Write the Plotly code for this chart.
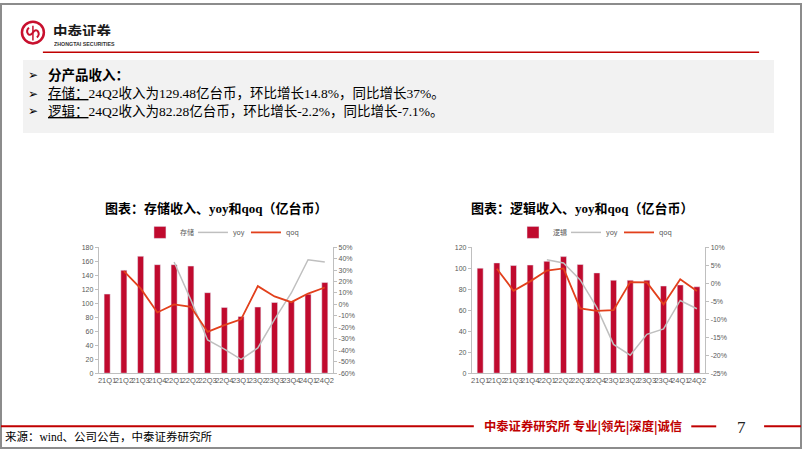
import plotly.graph_objects as go

W, H = 802, 451

quarters = ["21Q1", "21Q2", "21Q3", "21Q4", "22Q1", "22Q2", "22Q3", "22Q4",
            "23Q1", "23Q2", "23Q3", "23Q4", "24Q1", "24Q2"]

storage_rev = [113, 147, 167, 155, 155, 153, 115, 94, 81, 94.5, 101, 103, 112.8, 129.48]
storage_yoy = [None, None, None, None, 37, 4, -31, -39, -48, -38, -13, 10, 39, 37]
storage_qoq = [None, 29, 14, -7, 0, -2, -24, -18, -13, 16, 7, 2, 9.5, 14.8]

logic_rev = [100, 105, 102.5, 103, 106.5, 111, 103.5, 95.5, 88.5, 88.5, 88.6, 83, 84, 82.28]
logic_yoy = [None, None, None, None, 6.5, 5.6, 0.9, -6.8, -17, -20, -14.2, -12.7, -4.8, -7.1]
logic_qoq = [None, 4, -2.1, 0.5, 3.5, 4.1, -7, -7.7, -7.5, 0.3, 0.2, -5.9, 1.1, -2.2]

left_ticks = [-60, -50, -40, -30, -20, -10, 0, 10, 20, 30, 40, 50]
right_ticks = [-25, -20, -15, -10, -5, 0, 5, 10]

BAR = "#C00A2E"
YOY = "#BFBFBF"
QOQ = "#E2401C"
TICK = "#595959"
AX = "#BFBFBF"
SERIF = "Liberation Serif, Noto Sans CJK SC, serif"
SANS = "Liberation Sans, Arial, sans-serif"
CJK = "Noto Sans CJK SC, sans-serif"


def px(x):
    return x / W


def py(y):
    return 1 - y / H


fig = go.Figure()

# ---- left chart: storage
fig.add_trace(go.Bar(x=quarters, y=storage_rev, name="存储", marker_color=BAR,
                     xaxis="x", yaxis="y", legend="legend"))
fig.add_trace(go.Scatter(x=quarters, y=storage_yoy, name="yoy", mode="lines",
                         line=dict(color=YOY, width=1.5), xaxis="x", yaxis="y2",
                         legend="legend"))
fig.add_trace(go.Scatter(x=quarters, y=storage_qoq, name="qoq", mode="lines",
                         line=dict(color=QOQ, width=1.8), xaxis="x", yaxis="y2",
                         legend="legend"))

# ---- right chart: logic
fig.add_trace(go.Bar(x=quarters, y=logic_rev, name="逻辑", marker_color=BAR,
                     xaxis="x2", yaxis="y3", legend="legend2"))
fig.add_trace(go.Scatter(x=quarters, y=logic_yoy, name="yoy", mode="lines",
                         line=dict(color=YOY, width=1.5), xaxis="x2", yaxis="y4",
                         legend="legend2"))
fig.add_trace(go.Scatter(x=quarters, y=logic_qoq, name="qoq", mode="lines",
                         line=dict(color=QOQ, width=1.8), xaxis="x2", yaxis="y4",
                         legend="legend2"))

ydom = [py(375), py(247)]
tickfont = dict(family=SANS, size=7, color=TICK)
xtickfont = dict(family=SANS, size=7.5, color=TICK)

common_x = dict(showgrid=False, showline=True, linecolor=AX, linewidth=1,
                ticks="", tickfont=xtickfont, tickangle=0, fixedrange=True)
common_y = dict(showgrid=False, showline=True, linecolor=AX, linewidth=1,
                ticks="outside", ticklen=3, tickcolor=AX, tickfont=tickfont,
                zeroline=False, fixedrange=True)

legend_common = dict(orientation="h", yanchor="middle", xanchor="center",
                     font=dict(family=CJK, size=7, color=TICK),
                     itemwidth=30, entrywidth=8, entrywidthmode="pixels",
                     bgcolor="rgba(0,0,0,0)", tracegroupgap=0)

fig.update_layout(
    width=W, height=H,
    margin=dict(l=0, r=0, t=0, b=0),
    paper_bgcolor="white", plot_bgcolor="rgba(0,0,0,0)",
    bargap=0.64,
    xaxis=dict(domain=[px(98), px(333)], anchor="y", **common_x),
    yaxis=dict(domain=ydom, anchor="x", range=[0, 180], dtick=20, **common_y),
    yaxis2=dict(overlaying="y", side="right", anchor="x", range=[-60, 50],
                tickvals=left_ticks, ticktext=[f"{v}%" for v in left_ticks],
                **common_y),
    xaxis2=dict(domain=[px(472), px(706)], anchor="y3", **common_x),
    yaxis3=dict(domain=ydom, anchor="x2", range=[0, 120], dtick=20, **common_y),
    yaxis4=dict(overlaying="y3", side="right", anchor="x2", range=[-25, 10],
                tickvals=right_ticks, ticktext=[f"{v}%" for v in right_ticks],
                **common_y),
    legend=dict(x=px(219), y=py(232), **legend_common),
    legend2=dict(x=px(593), y=py(232), **legend_common),
    showlegend=True,
)

shapes = []
# slide border
shapes.append(dict(type="rect", xref="paper", yref="paper", x0=0, y0=0, x1=1, y1=1,
                   line=dict(color="#8C8C8C", width=2), layer="above"))
# top red rule
shapes.append(dict(type="line", xref="paper", yref="paper", x0=px(42), x1=px(760),
                   y0=py(49), y1=py(49), line=dict(color="#C00000", width=1.5)))
# text box
shapes.append(dict(type="rect", xref="paper", yref="paper", x0=px(22), x1=px(775),
                   y0=py(131), y1=py(57), fillcolor="#F2F2F2", line=dict(width=0),
                   layer="below"))
# logo circle
shapes.append(dict(type="circle", xref="paper", yref="paper", x0=px(21), x1=px(43),
                   y0=py(40), y1=py(18), line=dict(color="#C8102E", width=2.5)))
shapes.append(dict(type="path", xref="paper", yref="paper",
                   path=f"M {px(28)} {py(24)} C {px(24)} {py(28)}, {px(28)} {py(35)}, {px(32)} {py(29)} "
                        f"C {px(36)} {py(23)}, {px(40)} {py(30)}, {px(36)} {py(34)}",
                   line=dict(color="#C8102E", width=2)))
shapes.append(dict(type="line", xref="paper", yref="paper", x0=px(32), x1=px(32),
                   y0=py(22), y1=py(37), line=dict(color="#C8102E", width=1.5)))
# footer rules
shapes.append(dict(type="line", xref="paper", yref="paper", x0=0, x1=px(474),
                   y0=py(429), y1=py(429), line=dict(color="#C00000", width=2)))
shapes.append(dict(type="line", xref="paper", yref="paper", x0=px(692), x1=px(717),
                   y0=py(429), y1=py(429), line=dict(color="#C00000", width=2)))
shapes.append(dict(type="line", xref="paper", yref="paper", x0=px(765), x1=1,
                   y0=py(429), y1=py(429), line=dict(color="#C00000", width=2)))
fig.update_layout(shapes=shapes)

ann = []


def text(x, y, s, size, color="#000", family=SERIF, xanchor="left", height=None):
    a = dict(xref="paper", yref="paper", x=px(x), y=py(y), text=s,
             showarrow=False, xanchor=xanchor, yanchor="middle",
             font=dict(size=size, color=color, family=family))
    if height:
        a["height"] = height
        a["borderpad"] = 0
    ann.append(a)


# logo text
text(51, 26, "<b>中泰证券</b>", 14.5, "#1a1a1a", CJK, height=12)
text(52, 41, "<b>ZHONGTAI SECURITIES</b>", 5.3, "#333", SANS, height=4)

# bullet box
for yy in (72, 91, 109):
    text(25, yy, "➢", 12, "#000", "DejaVu Sans")
text(45, 72, "<b>分产品收入：</b>", 13.5)
text(45, 91, "<u>存储：</u>24Q2收入为129.48亿台币，环比增长14.8%，同比增长37%。", 13.5)
text(45, 109, "<u>逻辑：</u>24Q2收入为82.28亿台币，环比增长-2.2%，同比增长-7.1%。", 13.5)

# chart titles
text(102, 208, "<b>图表：存储收入、yoy和qoq（亿台币）</b>", 13)
text(469, 208, "<b>图表：逻辑收入、yoy和qoq（亿台币）</b>", 13)

# footer
text(482, 429, "<b>中泰证券研究所 专业|领先|深度|诚信</b>", 12.3, "#C00000", CJK)
text(742, 430, "7", 17, "#222", SERIF, "center")
text(2, 439, "来源：wind、公司公告，中泰证券研究所", 11.5, "#000", SERIF)

fig.update_layout(annotations=ann)

fig.write_html("out.html")
